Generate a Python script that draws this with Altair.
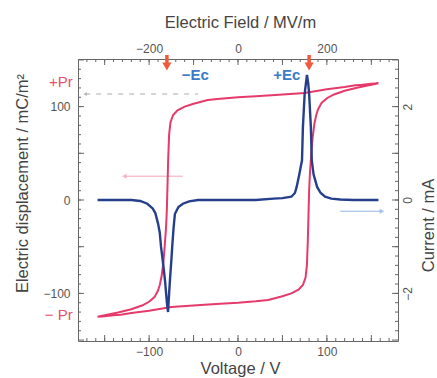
import altair as alt
import pandas as pd

# ---- data ----
# hysteresis loop, upper branch (sweep +V -> -V)
V_up = [158, 150, 140, 132, 120, 100, 75, 42, 20, 0, -20, -34, -50, -60, -68, -73, -76, -77.5,
        -78.5, -79.2, -80, -81, -82.5, -84, -86, -88, -90, -94, -100, -108, -120, -135, -150, -158]
D_up = [125, 124.5, 123.5, 123, 121, 118.5, 114.7, 112.5, 111, 110, 108.5, 107, 103, 100, 96, 91, 83, 70,
        45, 20, -10, -30, -50, -67, -82, -91, -97, -104, -109, -113, -117, -120.5, -123.5, -125]
# lower branch (sweep -V -> +V)
V_low = [-158, -150, -140, -132, -120, -100, -75, -42, -20, 0, 20, 34, 50, 60, 68, 73, 76, 77.5,
         78.5, 79.2, 80, 81, 82.5, 84, 86, 88, 90, 94, 100, 108, 120, 135, 150, 158]
D_low = [-125, -124.5, -123.5, -123, -121, -118.5, -114.7, -112.5, -111, -110, -108.5, -107, -103, -100, -96, -91, -83, -70,
         -45, -20, 10, 30, 50, 67, 82, 91, 97, 104, 109, 113, 117, 120.5, 123.5, 125]

# switching current
V_cur = [-158, -140, -120, -110, -102, -96, -93, -90, -88, -86.6, -84, -82, -80, -78.7, -77.5, -76.5, -75,
         -74, -72.5, -71, -67, -62, -55, -45, -20, 0, 20, 40, 50, 60, 64, 66, 69, 72, 73, 75, 77.6,
         79, 80, 82, 83, 85, 89, 93, 98, 105, 115, 130, 158]
I_cur = [0, 0, 0, -0.02, -0.08, -0.18, -0.28, -0.5, -0.7, -1.0, -1.4, -1.75, -2.2, -2.4, -2.0, -1.7, -1.3,
         -1.0, -0.6, -0.3, -0.15, -0.08, -0.03, 0, 0, 0, 0, 0.03, 0.04, 0.07, 0.15, 0.28, 0.55, 0.85, 1.55, 2.28, 2.68,
         2.5, 2.28, 1.55, 0.85, 0.55, 0.28, 0.15, 0.07, 0.03, 0.01, 0, 0]

x_labels = [-100, 0, 100]
y_labels = [-100, 0, 100]
e_labels = [-200, 0, 200]
i_labels = [-2, 0, 2]
Ec = [-80, 80]
Pr = 113.5

RED = "#e53a6a"
BLUE = "#263f8c"
TXT = "#444444"
LAB = "#555555"
TF = 16.5   # title font size
LF = 12     # tick label font size

W, H = 320, 282
xV = alt.Scale(domain=[-180, 180], nice=False, zero=False)
yD = alt.Scale(domain=[-151, 151], nice=False, zero=False)
yI = alt.Scale(domain=[-3.02, 3.02], nice=False, zero=False)
xE = alt.Scale(domain=[-360, 360], nice=False, zero=False)

loop = pd.DataFrame({"V": V_up + V_low, "D": D_up + D_low})
loop["i"] = range(len(loop))
cur = pd.DataFrame({"V": V_cur, "I": I_cur})
cur["i"] = range(len(cur))


def tdf(vals):
    return pd.DataFrame({"t": vals})


layers = []


def xticks(vals, scale):
    return alt.Chart(tdf(vals)).mark_rule(color="#666", strokeWidth=1).encode(
        x=alt.X("t:Q", scale=scale, axis=None))


# ---- inward ticks ----
for vals, ln in [(list(range(-170, 171, 10)), 3), (list(range(-150, 151, 50)), 6)]:
    layers.append(xticks(vals, xV).encode(y=alt.value(H), y2=alt.value(H - ln)))
for vals, ln in [(list(range(-340, 341, 20)), 3), (list(range(-300, 301, 100)), 6)]:
    layers.append(xticks(vals, xE).encode(y=alt.value(0), y2=alt.value(ln)))
for vals, ln in [(list(range(-140, 141, 10)), 3), (list(range(-150, 151, 50)), 6)]:
    layers.append(alt.Chart(tdf(vals)).mark_rule(color="#666", strokeWidth=1).encode(
        y=alt.Y("t:Q", scale=yD, axis=None), x=alt.value(0), x2=alt.value(ln)))
for vals, ln in [([v / 10 for v in range(-28, 29, 2)], 3), ([-3, -2, -1, 0, 1, 2, 3], 6)]:
    layers.append(alt.Chart(tdf(vals)).mark_rule(color="#666", strokeWidth=1).encode(
        y=alt.Y("t:Q", scale=yI, axis=None), x=alt.value(W), x2=alt.value(W - ln)))

# ---- top axis (electric field) ----
layers.append(alt.Chart(tdf([0])).mark_point(opacity=0).encode(
    x=alt.X("t:Q", scale=xE, axis=alt.Axis(
        orient="top", values=e_labels, ticks=False, tickSize=0, domain=False, grid=False,
        labelPadding=4, labelFontSize=LF, labelColor=LAB,
        title="Electric Field / MV/m", titleFontSize=TF, titleFontWeight="normal", titleColor=TXT,
        titleX=162, titleY=-37, titleBaseline="middle"))))

# dashed +Pr guide
pr = pd.DataFrame({"V": [-172, -45], "D": [Pr, Pr]})
layers.append(alt.Chart(pr).mark_line(color="#aaaaaa", strokeWidth=1, strokeDash=[5, 6]).encode(
    x=alt.X("V:Q", scale=xV, axis=None), y=alt.Y("D:Q", scale=yD, axis=None)))
layers.append(alt.Chart(pr.iloc[[0]]).mark_point(shape="triangle-left", filled=True, size=18, color="#aaaaaa").encode(
    x=alt.X("V:Q", scale=xV, axis=None), y=alt.Y("D:Q", scale=yD, axis=None)))

# pink arrow (left axis), blue arrow (right axis)
la = pd.DataFrame({"V": [-128, -62], "D": [25.5, 25.5]})
layers.append(alt.Chart(la).mark_line(color="#f4a6b6", strokeWidth=1).encode(
    x=alt.X("V:Q", scale=xV, axis=None), y=alt.Y("D:Q", scale=yD, axis=None)))
layers.append(alt.Chart(la.iloc[[0]]).mark_point(shape="triangle-left", filled=True, size=30, color="#f4a6b6").encode(
    x=alt.X("V:Q", scale=xV, axis=None), y=alt.Y("D:Q", scale=yD, axis=None)))
ra = pd.DataFrame({"V": [115, 162], "I": [-0.24, -0.24]})
layers.append(alt.Chart(ra).mark_line(color="#8fb6e0", strokeWidth=1).encode(
    x=alt.X("V:Q", scale=xV, axis=None), y=alt.Y("I:Q", scale=yI, axis=None)))
layers.append(alt.Chart(ra.iloc[[1]]).mark_point(shape="triangle-right", filled=True, size=30, color="#8fb6e0").encode(
    x=alt.X("V:Q", scale=xV, axis=None), y=alt.Y("I:Q", scale=yI, axis=None)))

# hysteresis loop (left axis, bottom axis)
layers.append(alt.Chart(loop).mark_line(color=RED, strokeWidth=2).encode(
    x=alt.X("V:Q", scale=xV, axis=alt.Axis(
        orient="bottom", values=x_labels, ticks=False, tickSize=0, domain=False, grid=False,
        labelPadding=5, labelFontSize=LF, labelColor=LAB,
        title="Voltage / V", titleFontSize=TF, titleFontWeight="normal", titleColor=TXT,
        titleX=162, titleY=27, titleBaseline="middle")),
    y=alt.Y("D:Q", scale=yD, axis=alt.Axis(
        orient="left", values=y_labels, ticks=False, tickSize=0, domain=False, grid=False,
        labelPadding=8, labelFontSize=LF, labelColor=LAB,
        title="Electric displacement / mC/m²", titleFontSize=TF, titleFontWeight="normal", titleColor=TXT,
        titleAngle=270, titleX=-56, titleY=124, titleBaseline="middle")),
    order="i:Q"))

# current (right axis)
layers.append(alt.Chart(cur).mark_line(color=BLUE, strokeWidth=2.4).encode(
    x=alt.X("V:Q", scale=xV, axis=None),
    y=alt.Y("I:Q", scale=yI, axis=alt.Axis(
        orient="right", values=i_labels, ticks=False, tickSize=0, domain=False, grid=False,
        labelPadding=4, labelFontSize=LF, labelColor=LAB, labelAngle=270,
        labelAlign="center", labelBaseline="top",
        title="Current / mA", titleFontSize=TF, titleFontWeight="normal", titleColor=TXT,
        titleAngle=270, titleX=30, titleY=166, titleBaseline="middle")),
    order="i:Q"))

# Ec arrows at top
ec = pd.DataFrame({"V": Ec})
layers.append(alt.Chart(ec).mark_rule(color="#f05a3c", strokeWidth=3.5).encode(
    x=alt.X("V:Q", scale=xV, axis=None), y=alt.value(-4), y2=alt.value(6)))
layers.append(alt.Chart(ec).mark_point(shape="triangle-down", filled=True, size=85, color="#f05a3c", opacity=1).encode(
    x=alt.X("V:Q", scale=xV, axis=None), y=alt.value(7.5)))

# texts
ect = pd.DataFrame({"V": [-48, 55], "D": [134, 134], "s": ["−Ec", "+Ec"]})
layers.append(alt.Chart(ect).mark_text(color="#3b7bc8", fontSize=15, fontWeight="bold").encode(
    x=alt.X("V:Q", scale=xV, axis=None), y=alt.Y("D:Q", scale=yD, axis=None), text="s:N"))
prt = pd.DataFrame({"V": [-186, -186], "D": [126.5, -123.5], "s": ["+Pr", "− Pr"]})
layers.append(alt.Chart(prt).mark_text(color="#e8506b", fontSize=15, align="right").encode(
    x=alt.X("V:Q", scale=xV, axis=None), y=alt.Y("D:Q", scale=yD, axis=None), text="s:N"))

chart = alt.layer(*layers).resolve_scale(x="independent", y="independent").properties(
    width=W, height=H,
    padding={"left": 78, "top": 59, "right": 39, "bottom": 37},
    autosize=alt.AutoSizeParams(type="none"),
).configure(font="Liberation Sans").configure_view(stroke="#666", strokeWidth=1)

chart.save("out.html", embed_options={"renderer": "svg", "actions": False})
